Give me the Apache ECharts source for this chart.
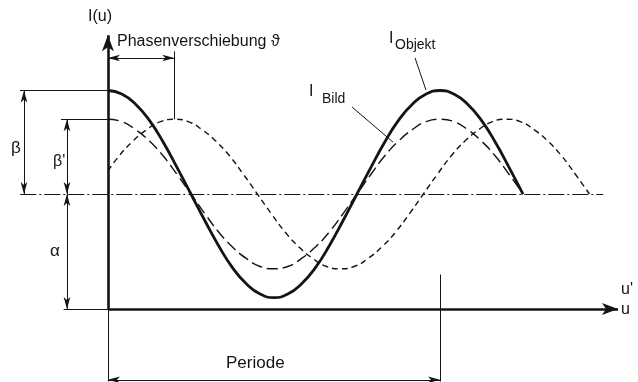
<!DOCTYPE html>
<html>
<head>
<meta charset="utf-8">
<script src="https://cdn.jsdelivr.net/npm/echarts@6/dist/echarts.min.js"></script>
<style>
  html, body { margin: 0; padding: 0; background: #fff; }
  #chart { width: 638px; height: 382px; }
</style>
</head>
<body>
<div id="chart"></div>
<script>
// phase in degrees, one period = 360
const phase = [0, 15, 30, 45, 60, 75, 90, 105, 120, 135, 150, 165, 180, 195, 210, 225,
  240, 255, 270, 285, 300, 315, 330, 345, 360, 375, 390, 405, 420, 435, 450]
// I_Objekt, mean alpha = 1
const objekt = [1.90, 1.87, 1.78, 1.64, 1.45, 1.23, 1.00, 0.77, 0.55, 0.36, 0.22, 0.13, 0.10, 0.13, 0.22, 0.36,
  0.55, 0.77, 1.00, 1.23, 1.45, 1.64, 1.78, 1.87, 1.90, 1.87, 1.78, 1.64, 1.45, 1.23, 1.00]
// I_Bild
const bild = [1.65, 1.63, 1.56, 1.46, 1.33, 1.17, 1.00, 0.83, 0.67, 0.54, 0.44, 0.37, 0.35, 0.37, 0.44, 0.54,
  0.67, 0.83, 1.00, 1.17, 1.33, 1.46, 1.56, 1.63, 1.65, 1.63, 1.56, 1.46, 1.33, 1.17, 1.00]
// I_Bild shifted by the phase shift (~72 deg)
const phaseShift = [0, 12, 27, 42, 57, 72, 87, 102, 117, 132, 147, 162, 177, 192, 207, 222, 237, 252,
  267, 282, 297, 312, 327, 342, 357, 372, 387, 402, 417, 432, 447, 462, 477, 492, 507, 522]
const bildShift = [1.20, 1.33, 1.46, 1.56, 1.63, 1.65, 1.63, 1.56, 1.46, 1.33, 1.17, 1.00, 0.83, 0.67, 0.54, 0.44, 0.37, 0.35,
  0.37, 0.44, 0.54, 0.67, 0.83, 1.00, 1.17, 1.33, 1.46, 1.56, 1.63, 1.65, 1.63, 1.56, 1.46, 1.33, 1.17, 1.00]

const alpha = 1
const beta = 1.9
const betaP = 1.65
const shift = 72
const period = 360

const ink = '#141414'
const font = 'Liberation Sans'

function pairs(xs, ys) {
  return xs.map((x, i) => [x, ys[i]])
}
function seg(a, b, s0, s1) {
  return [{ coord: a, symbol: s0 || 'none' }, { coord: b, symbol: s1 || 'none' }]
}
function marks(data, width, type, size) {
  return {
    type: 'line',
    data: [],
    markLine: {
      silent: true,
      animation: false,
      symbolSize: size || [6, 11],
      label: { show: false },
      lineStyle: { color: ink, width: width, type: type || 'solid' },
      emphasis: { disabled: true },
      data: data
    }
  }
}

const chart = echarts.init(document.getElementById('chart'))
const option = {
  backgroundColor: '#fff',
  animation: false,
  grid: { left: 0, right: 20, top: 33, bottom: 0.5 },
  xAxis: { type: 'value', min: -117, max: 553, show: false },
  yAxis: { type: 'value', min: -0.63, max: 2.4, show: false },
  series: [
    {
      type: 'line', data: pairs(phase, objekt), smooth: true, showSymbol: false,
      lineStyle: { color: ink, width: 2.8 }
    },
    {
      type: 'line', data: pairs(phase, bild), smooth: true, showSymbol: false,
      lineStyle: { color: ink, width: 1.4, type: [11, 5] }
    },
    {
      type: 'line', data: pairs(phaseShift, bildShift), smooth: true, showSymbol: false,
      lineStyle: { color: ink, width: 1.4, type: [6, 4] }
    },
    // axes
    marks([
      seg([0, 0], [0, 2.38], 'none', 'arrow'),
      seg([0, 0], [553, 0], 'none', 'arrow')
    ], 2.6, 'solid', [9, 16]),
    // mean line
    marks([seg([-95, alpha], [537, alpha])], 1, [16, 3, 2, 3]),
    // dimension lines with arrows
    marks([
      seg([-91, beta], [-91, alpha], 'arrow', 'arrow'),
      seg([-44.4, betaP], [-44.4, alpha], 'arrow', 'arrow'),
      seg([-44.4, alpha], [-44.4, 0], 'arrow', 'arrow'),
      seg([0, 2.183], [shift, 2.183], 'arrow', 'arrow'),
      seg([0, -0.615], [period, -0.615], 'arrow', 'arrow')
    ], 1, 'solid', [5, 12]),
    // extension and leader lines
    marks([
      seg([-95.3, beta], [0, beta]),
      seg([-50.9, betaP], [0, betaP]),
      seg([-48, 0], [0, 0]),
      seg([0, 0], [0, -0.63]),
      seg([shift, 2.24], [shift, betaP]),
      seg([period, 0.3], [period, -0.63]),
      seg([333, 2.183], [344.8, 1.904]),
      seg([264.6, 1.757], [309, 1.452])
    ], 1)
  ],
  graphic: [
    { type: 'text', left: 88, top: 9, style: { text: 'I(u)', font: '16px ' + font, fill: ink } },
    { type: 'text', left: 117, top: 34, style: { text: 'Phasenverschiebung ϑ', font: '16px ' + font, fill: ink } },
    { type: 'text', left: 389, top: 31, style: { text: 'I', font: '16px ' + font, fill: ink } },
    { type: 'text', left: 395, top: 38, style: { text: 'Objekt', font: '14px ' + font, fill: ink } },
    { type: 'text', left: 309, top: 84, style: { text: 'I', font: '16px ' + font, fill: ink } },
    { type: 'text', left: 322, top: 92, style: { text: 'Bild', font: '14px ' + font, fill: ink } },
    { type: 'text', left: 11, top: 140, style: { text: 'β', font: '17px ' + font, fill: ink } },
    { type: 'text', left: 53, top: 154, style: { text: "β'", font: '16px ' + font, fill: ink } },
    { type: 'text', left: 50, top: 243, style: { text: 'α', font: '17px ' + font, fill: ink } },
    { type: 'text', left: 621, top: 282, style: { text: "u'", font: '16px ' + font, fill: ink } },
    { type: 'text', left: 621, top: 302, style: { text: 'u', font: '16px ' + font, fill: ink } },
    { type: 'text', left: 226, top: 355, style: { text: 'Periode', font: '17px ' + font, fill: ink } }
  ]
}
chart.setOption(option)
</script>
</body>
</html>
